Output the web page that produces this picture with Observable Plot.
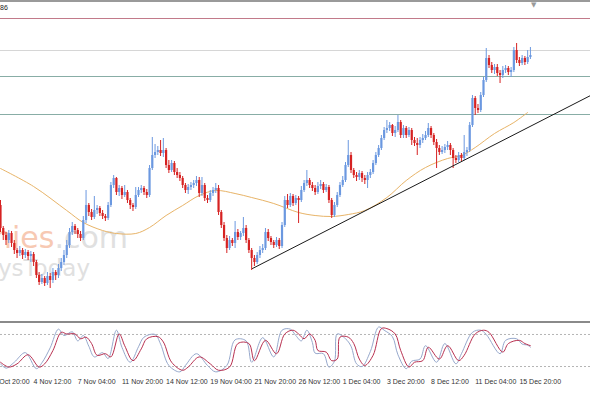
<!DOCTYPE html>
<html><head><meta charset="utf-8">
<script src="https://cdn.jsdelivr.net/npm/d3@7"></script>
<script src="https://cdn.jsdelivr.net/npm/@observablehq/plot@0.6"></script>
<style>
html,body{margin:0;padding:0;background:#fff;overflow:hidden;width:590px;height:393px;position:relative}
.layer{position:absolute;left:0}
svg{display:block}
.wm{position:absolute;font-family:"DejaVu Sans",sans-serif;line-height:1;white-space:nowrap}
</style></head><body>
<div class="wm" style="right:462px;top:223px;font-size:30px"><span style="color:#f7c9b3">Economies</span><span style="color:#e0e0e0">.com</span></div>
<div class="wm" style="right:500px;top:257px;font-size:23px;color:#e0e0e0">ysToday</div>
<div id="main" class="layer" style="top:0;z-index:2"></div>
<div id="osc" class="layer" style="top:321px;z-index:2"></div>
<div style="position:absolute;left:0;top:0;width:590px;height:2px;background:#9a9a9a;z-index:3"></div>
<div style="position:absolute;left:0;top:4px;font:7px 'Liberation Sans',Arial,sans-serif;color:#222;z-index:3">86</div>
<div style="position:absolute;left:531px;top:1px;font:7px 'DejaVu Sans',sans-serif;color:#9a9a9a;z-index:3">▼</div>
<div style="position:absolute;left:0;top:321px;width:590px;height:2px;background:#8a8a8a;z-index:3"></div>
<script>
// ---- candles (price level units), open = previous close ----
const firstOpen = 95;
const closes = [
72,65,60,67,57,50,47,50,45,48,
44,46,38,25,18,22,17,24,20,28,
25,32,38,45,55,68,74,70,66,62,
80,95,88,83,90,92,87,84,82,95,
115,122,108,112,105,108,100,95,93,105,
110,112,108,105,132,145,148,150,147,150,
135,130,137,128,125,122,115,110,113,115,
117,120,107,115,102,100,107,110,112,88,
75,62,52,60,57,68,63,67,72,60,
50,42,38,45,50,52,68,62,58,55,
60,54,75,100,95,104,97,102,100,110,
117,120,115,112,108,114,116,110,113,100,
85,95,105,115,120,135,145,130,125,123,
127,122,120,125,128,137,145,152,162,170,
172,175,167,170,178,165,172,165,170,160,
157,155,160,162,165,172,165,158,152,148,
150,153,155,150,142,140,145,142,148,150,
175,202,192,190,205,220,242,235,230,233,
227,225,230,232,228,230,250,240,237,242,
238,243,245];
const highs = [
100,74,68,70,69,60,52,54,52,51,
50,49,48,40,28,26,24,28,27,32,
30,36,42,50,60,72,78,76,72,69,
84,110,97,91,104,95,94,90,86,98,
118,125,123,115,114,115,110,102,97,113,
113,115,114,111,135,163,156,154,160,162,
152,140,140,139,132,128,124,117,116,118,
120,124,123,123,117,105,110,113,117,115,
90,78,65,64,62,79,71,69,83,75,
62,52,45,48,54,56,72,71,64,60,
63,62,78,104,106,107,106,105,104,114,
120,130,122,118,115,118,120,118,116,115,
102,98,108,118,124,138,160,148,132,128,
130,129,125,128,131,140,148,155,165,173,
180,178,176,174,185,180,175,174,173,172,
163,162,163,166,169,177,174,167,161,155,
154,156,159,157,152,145,148,147,165,153,
178,205,204,196,208,223,252,245,238,236,
236,230,234,235,234,233,253,257,243,245,
244,250,253];
const lows = [
68,60,55,57,53,46,42,44,41,42,
40,38,34,22,15,16,14,15,12,17,
20,22,29,35,42,52,65,66,62,59,
60,77,84,80,81,86,84,81,79,80,
93,112,105,104,101,103,97,91,89,91,
103,107,105,102,103,130,142,145,144,143,
132,127,128,125,122,119,112,107,106,110,
112,114,103,104,99,97,98,104,107,85,
72,59,47,50,54,52,60,60,64,57,
47,30,34,36,42,47,50,59,55,52,
53,51,52,73,92,93,94,95,77,98,
108,114,112,109,105,106,111,107,108,97,
82,83,93,103,113,118,133,127,122,119,
120,118,116,112,122,126,135,143,150,160,
167,169,164,163,168,162,162,162,163,155,
154,145,152,157,160,163,162,155,132,145,
146,147,150,145,132,137,138,139,140,144,
148,173,185,187,188,203,218,232,227,226,
224,217,222,227,225,223,228,237,234,235,
235,236,241];

// horizontal levels
const levelValues = [282, 250, 224, 186];
const levelColors = ["#c27a8a", "#d6d6d6", "#88ada6", "#88ada6"];

// trend line
const trendBars = [91.3, 213.8];
const trendValues = [32, 205];

// moving average
const maBars   = [0,12,24,30,37,42,49,54,60,66,72,78,85,91,99,108,114,120,126,132,140,147,154,162,167,172,179,186,191];
const maValues = [132,114,90,78,70,67,67,73,85,95,105,110,107,103,97,88,85,84,86,90,103,120,133,142,145,153,167,178,188];

// stochastic oscillator
const dBars = [0,3,6,10,14,16,19,22,24,27,29,31,33,35,38,40,43,45,48,51,53,57,59,62,66,68,72,76,79,83,86,90,92,96,100,103,106,108,110,112,114,115,118,120,122,123,126,128,130,132,135,138,140,143,145,148,150,153,155,159,162,166,168,172,175,177,182,184,188,190,192];
const dValues = [28,19,25,42,19,25,50,84,81,81,72,75,63,41,44,38,81,59,31,53,72,76,66,28,13,19,38,25,13,19,63,63,31,69,44,81,88,81,72,81,69,50,47,31,34,75,75,63,34,22,41,91,91,81,50,19,28,31,56,34,59,31,41,81,88,84,47,63,69,63,59];
const kBars = [0,2,5,9,13,15,18,21,23,26,28,30,32,34,37,39,42,44,47,50,52,56,58,61,65,67,71,75,78,82,85,89,91,95,99,102,105,107,109,111,113,114,117,119,121,122,125,127,129,131,134,137,139,142,144,147,149,152,154,158,161,165,167,171,174,176,181,183,187,189,191,192];
const kValues = [25,17,28,46,16,27,55,90,78,85,68,78,58,38,46,35,88,56,28,57,75,80,62,22,10,22,44,22,10,22,70,68,28,74,38,88,90,78,68,88,65,45,44,19,30,81,72,58,25,20,48,94,88,76,42,16,30,34,59,28,63,25,44,84,88,80,44,69,72,62,60,56];
const stochLevels = [80, 20];

// time axis
const tickBars = [-4,12,28,44,60,76,92,108,124,140,156,172,188];
const tickLabels = ["31 Oct 20:00","4 Nov 12:00","7 Nov 04:00","11 Nov 20:00","14 Nov 12:00","19 Nov 04:00","21 Nov 20:00","26 Nov 12:00","1 Dec 04:00","3 Dec 20:00","8 Dec 12:00","11 Dec 04:00","15 Dec 20:00"];

const BULL = "#6b98e0", BEAR = "#d62222";
const candles = closes.map((c, i) => {
  const o = i === 0 ? firstOpen : closes[i - 1];
  return {i, open: o, close: c, high: highs[i], low: lows[i], col: c >= o ? BULL : BEAR};
});
const ma = maBars.map((b, j) => ({b, v: maValues[j]}));
const trend = trendBars.map((b, j) => ({b, v: trendValues[j]}));
const dLine = dBars.map((b, j) => ({b, v: dValues[j]}));
const kLine = kBars.map((b, j) => ({b, v: kValues[j]}));
const ticks = tickBars.map((b, j) => ({b, t: tickLabels[j]}));

const X = {domain: [0, 590 / 2.76], range: [0, 590], axis: null};

const main = Plot.plot({
  width: 590, height: 321, margin: 0,
  style: {background: "transparent", overflow: "hidden"},
  x: X,
  y: {domain: [-21, 300], range: [321, 0], axis: null},
  color: {type: "identity"},
  marks: [
    ...levelValues.map((v, j) => Plot.ruleY([v], {stroke: levelColors[j], strokeWidth: 1})),
    Plot.line(ma, {x: "b", y: "v", stroke: "#e8b468", strokeWidth: 1, curve: "catmull-rom"}),
    Plot.ruleX(candles, {x: "i", y1: "low", y2: "high", stroke: "col", strokeWidth: 1}),
    Plot.ruleX(candles, {x: "i", y1: "open", y2: "close", stroke: "col", strokeWidth: 2.2}),
    Plot.line(trend, {x: "b", y: "v", stroke: "#1a1a1a", strokeWidth: 1})
  ]
});
document.getElementById("main").appendChild(main);

const osc = Plot.plot({
  width: 590, height: 72, margin: 0,
  style: {background: "transparent", overflow: "hidden"},
  x: X,
  y: {domain: [0, 100], range: [55.7, 2.3], axis: null},
  marks: [
    Plot.ruleY(stochLevels, {stroke: "#b4b4b4", strokeDasharray: "2,2", strokeWidth: 1}),
    Plot.line(kLine, {x: "b", y: "v", stroke: "#96a8cc", strokeWidth: 1, curve: "catmull-rom"}),
    Plot.line(dLine, {x: "b", y: "v", stroke: "#b83050", strokeWidth: 1, curve: "catmull-rom"}),
    Plot.text(ticks, {x: "b", text: "t", frameAnchor: "bottom", dy: -10, textAnchor: "start",
      fontSize: 7, fill: "#333", fontFamily: "Liberation Sans, Arial, sans-serif"})
  ]
});
document.getElementById("osc").appendChild(osc);
</script>
</body></html>
